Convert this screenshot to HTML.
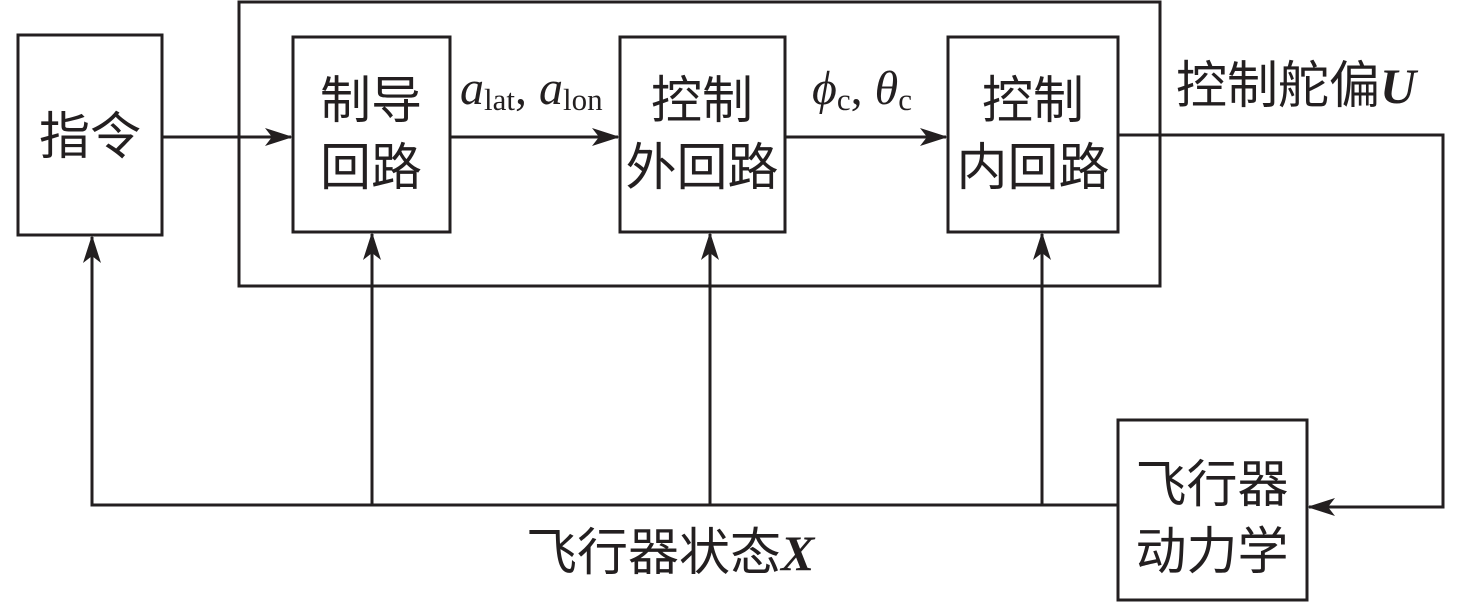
<!DOCTYPE html>
<html><head><meta charset="utf-8"><style>
body{margin:0;background:#fff}
svg text{font-family:"Liberation Serif","Noto Serif CJK SC","Noto Sans CJK SC",serif;fill:#231f20}
.c{font-family:"Noto Sans CJK SC","WenQuanYi Zen Hei",sans-serif;font-size:51px}
</style></head><body>
<svg width="1476" height="603" viewBox="0 0 1476 603" xmlns="http://www.w3.org/2000/svg">
<defs><marker id="a" markerWidth="28" markerHeight="18" refX="26" refY="9" orient="auto" markerUnits="userSpaceOnUse"><path d="M0,0 L28,9 L0,18 L7,9 Z" fill="#231f20"/></marker></defs>
<g fill="none" stroke="#231f20" stroke-width="3">
<rect x="239" y="2" width="921" height="284"/>
<rect x="18" y="35" width="144" height="200"/>
<rect x="293" y="37" width="157" height="195"/>
<rect x="620" y="37" width="165" height="195"/>
<rect x="948" y="37" width="170" height="195"/>
<rect x="1118" y="420" width="189" height="180"/>
<path d="M162,137 H291" marker-end="url(#a)"/>
<path d="M450,137 H618" marker-end="url(#a)"/>
<path d="M785,137 H946" marker-end="url(#a)"/>
<path d="M1118,135 H1443 V507 H1309" marker-end="url(#a)"/>
<path d="M1118,505 H92 V237" marker-end="url(#a)"/>
<path d="M372,505 V234" marker-end="url(#a)"/>
<path d="M710,505 V234" marker-end="url(#a)"/>
<path d="M1042,505 V234" marker-end="url(#a)"/>
</g>
<text class="c" x="90" y="154" text-anchor="middle">指令</text>
<text class="c" x="371" y="118" text-anchor="middle">制导</text>
<text class="c" x="371" y="185" text-anchor="middle">回路</text>
<text class="c" x="702" y="118" text-anchor="middle">控制</text>
<text class="c" x="702" y="185" text-anchor="middle">外回路</text>
<text class="c" x="1033" y="118" text-anchor="middle">控制</text>
<text class="c" x="1033" y="185" text-anchor="middle">内回路</text>
<text class="c" x="1212" y="502" text-anchor="middle">飞行器</text>
<text class="c" x="1212" y="569" text-anchor="middle">动力学</text>
<text x="1176" y="103"><tspan class="c">控制舵偏</tspan><tspan font-size="50" font-weight="bold" font-style="italic">U</tspan></text>
<text x="526" y="570"><tspan class="c">飞行器状态</tspan><tspan font-size="50" font-weight="bold" font-style="italic">X</tspan></text>
<text x="460" y="104" font-size="48"><tspan font-style="italic">a</tspan><tspan font-size="31" dy="6">lat</tspan><tspan dy="-6">, </tspan><tspan font-style="italic">a</tspan><tspan font-size="31" dy="6">lon</tspan></text>
<text x="812" y="104" font-size="48"><tspan font-style="italic">ϕ</tspan><tspan font-size="31" dy="6">c</tspan><tspan dy="-6">, </tspan><tspan font-style="italic">θ</tspan><tspan font-size="31" dy="6">c</tspan></text>
</svg>
</body></html>
